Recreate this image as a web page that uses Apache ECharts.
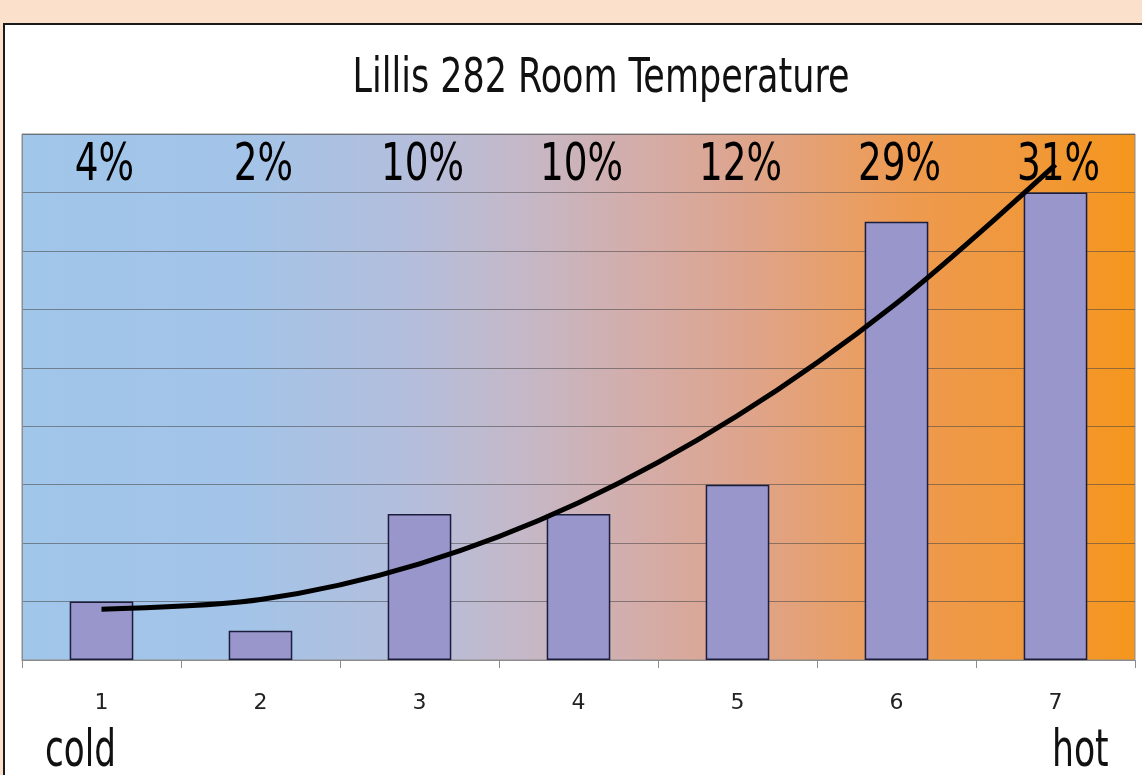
<!DOCTYPE html>
<html>
<head>
<meta charset="utf-8">
<script src="https://cdn.jsdelivr.net/npm/echarts@6/dist/echarts.min.js"></script>
<style>
html,body{margin:0;padding:0;background:#FBE0CC;}
#chart{width:1142px;height:775px;}
</style>
</head>
<body>
<div id="chart"></div>
<script>
// ---- data ----
var categories = ['1', '2', '3', '4', '5', '6', '7'];
var counts = [2, 1, 5, 5, 6, 15, 16];            // bar heights (grid units of 2)
var percentLabels = ['4%', '2%', '10%', '10%', '12%', '29%', '31%'];
var trendValues = [1.74, 2.07, 3.29, 5.38, 8.36, 12.21, 16.95]; // trend curve read at each category
var yTicks = { min: 0, max: 18, interval: 2 };
var labelLevel = 16.9;   // height at which percent labels sit

var condensed = "'DejaVu Sans Condensed', 'DejaVu Sans', sans-serif";

var chart = echarts.init(document.getElementById('chart'), null, { renderer: 'canvas' });

var option = {
  backgroundColor: '#FBE0CC',
  animation: false,
  graphic: [
    {
      type: 'rect', z: -100,
      shape: { x: 4, y: 24, width: 1150, height: 800 },
      style: { fill: '#ffffff', stroke: '#1a1a1a', lineWidth: 2 }
    },
    {
      type: 'text', x: 601, y: 80, scaleX: 0.81, z: 10,
      style: { text: 'Lillis 282 Room Temperature', font: "normal 48px " + condensed, fill: '#111',
               textAlign: 'center', textVerticalAlign: 'middle' }
    },
    {
      type: 'text', x: 45, y: 752, scaleX: 0.73, z: 10,
      style: { text: 'cold', font: "normal 52px " + condensed, fill: '#111', textAlign: 'left', textVerticalAlign: 'middle' }
    },
    {
      type: 'text', x: 1052, y: 752, scaleX: 0.74, z: 10,
      style: { text: 'hot', font: "normal 52px " + condensed, fill: '#111', textAlign: 'left', textVerticalAlign: 'middle' }
    }
  ],
  grid: {
    left: 22, right: 7, top: 134, bottom: 115,
    show: true,
    borderColor: '#8c8c8c',
    borderWidth: 1,
    backgroundColor: {
      type: 'linear', x: 0, y: 0, x2: 1, y2: 0,
      colorStops: [
        { offset: 0.0, color: '#A0C6EA' },
        { offset: 0.2, color: '#A3C4E8' },
        { offset: 0.35, color: '#B4BEDC' },
        { offset: 0.45, color: '#C5B8C8' },
        { offset: 0.55, color: '#D3ADAA' },
        { offset: 0.65, color: '#DEA48C' },
        { offset: 0.72, color: '#E6A070' },
        { offset: 0.8, color: '#EE9A4E' },
        { offset: 0.9, color: '#F0983C' },
        { offset: 1.0, color: '#F5961C' }
      ]
    }
  },
  xAxis: {
    type: 'category',
    data: categories,
    boundaryGap: true,
    axisLine: { show: true, lineStyle: { color: '#8c8c8c', width: 1 } },
    axisTick: { show: true, length: 8, lineStyle: { color: '#8c8c8c' } },
    axisLabel: { fontFamily: "'DejaVu Sans', sans-serif", fontSize: 22, color: '#222', margin: 32 }
  },
  yAxis: {
    type: 'value',
    min: yTicks.min, max: yTicks.max, interval: yTicks.interval,
    axisLine: { show: true, lineStyle: { color: '#8c8c8c' } },
    axisTick: { show: false },
    axisLabel: { show: false },
    splitLine: { show: true, lineStyle: { color: 'rgba(70,70,70,0.55)', width: 1 } }
  },
  series: [
    {
      type: 'bar',
      data: counts,
      barWidth: '40%',
      z: 2,
      itemStyle: { color: '#9896CA', borderColor: '#1c1c3c', borderWidth: 1.5 }
    },
    {
      type: 'custom',
      data: percentLabels.map(function (t, i) { return [i, labelLevel]; }),
      z: 3,
      silent: true,
      renderItem: function (params, api) {
        var pt = api.coord([api.value(0), api.value(1)]);
        return {
          type: 'text',
          x: pt[0] + 3, y: pt[1],
          scaleX: 0.8,
          style: {
            text: percentLabels[params.dataIndex],
            font: "normal 52px " + condensed,
            fill: '#000',
            textAlign: 'center',
            textVerticalAlign: 'middle'
          }
        };
      }
    },
    {
      type: 'line',
      data: trendValues,
      smooth: 0.33,
      symbol: 'none',
      z: 5,
      lineStyle: { color: '#000', width: 5 }
    }
  ]
};
chart.setOption(option);
</script>
</body>
</html>
